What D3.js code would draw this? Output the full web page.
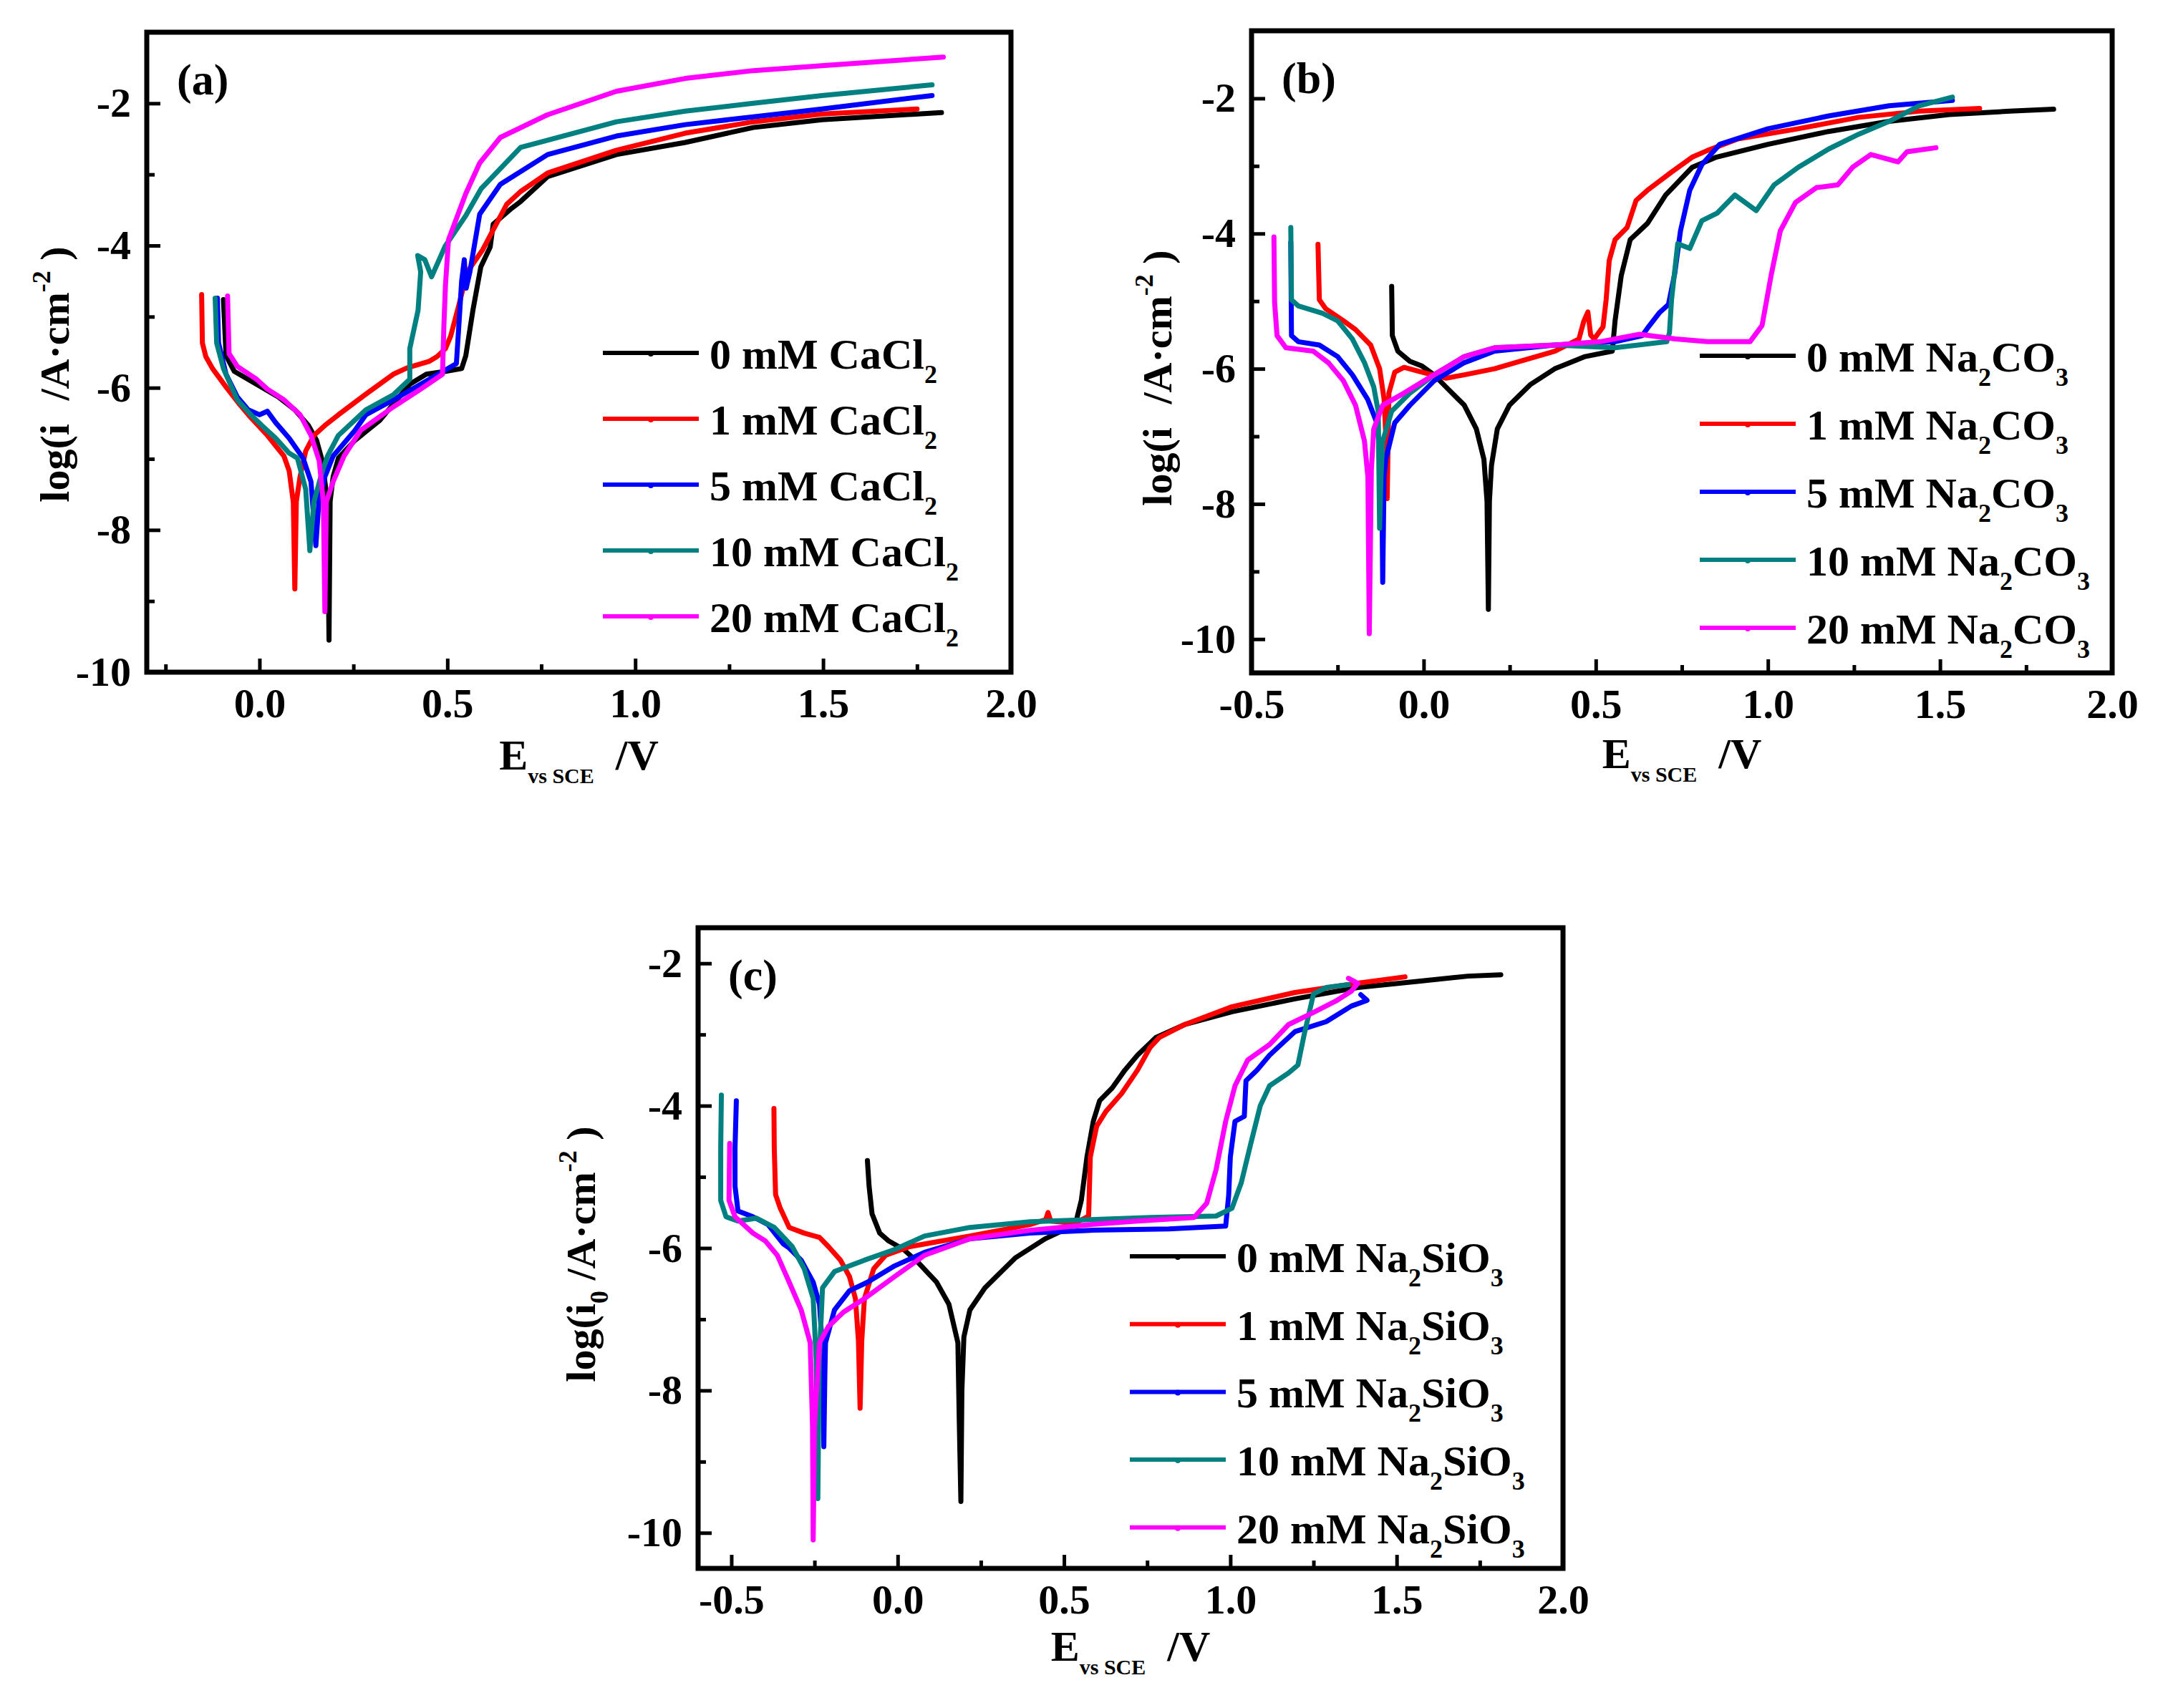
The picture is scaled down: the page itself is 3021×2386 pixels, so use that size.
<!DOCTYPE html>
<html>
<head>
<meta charset="utf-8">
<script src="https://cdn.jsdelivr.net/npm/d3@7"></script>
<style>
  body { margin: 0; background: #ffffff; }
  svg text { font-family: "Liberation Serif", "Times New Roman", serif; font-weight: bold; fill: #000; }
</style>
</head>
<body>
<svg id="figure"></svg>
<script>
// ==================== Data: [E (V vs SCE), log i] ====================

// (a) CaCl2
var a0 = [[-0.096,-4.76],[-0.089,-5.55],[-0.067,-5.77],[-0.008,-5.95],[0.05,-6.13],[0.094,-6.31],[0.13,-6.53],[0.152,-6.74],[0.167,-7.03],[0.181,-7.61],[0.185,-9.55],[0.188,-7.6],[0.196,-7.25],[0.21,-6.99],[0.254,-6.74],[0.32,-6.46],[0.4,-5.95],[0.444,-5.81],[0.495,-5.77],[0.538,-5.73],[0.549,-5.55],[0.568,-4.91],[0.589,-4.3],[0.614,-4.02],[0.622,-3.7],[0.668,-3.49],[0.695,-3.38],[0.767,-3.03],[0.95,-2.72],[1.133,-2.55],[1.314,-2.34],[1.497,-2.23],[1.815,-2.13]];
var a1 = [[-0.154,-4.69],[-0.152,-5.37],[-0.143,-5.56],[-0.125,-5.73],[-0.089,-5.99],[-0.052,-6.24],[-0.023,-6.42],[0.021,-6.67],[0.065,-6.96],[0.079,-7.17],[0.09,-7.61],[0.094,-8.83],[0.098,-7.6],[0.108,-7.25],[0.123,-6.89],[0.145,-6.67],[0.174,-6.53],[0.21,-6.38],[0.283,-6.09],[0.356,-5.81],[0.393,-5.72],[0.451,-5.63],[0.473,-5.56],[0.495,-5.45],[0.509,-5.27],[0.531,-4.83],[0.553,-4.37],[0.594,-4.06],[0.658,-3.42],[0.695,-3.24],[0.767,-2.98],[0.95,-2.66],[1.133,-2.42],[1.314,-2.26],[1.497,-2.15],[1.75,-2.08]];
var a5 = [[-0.112,-4.74],[-0.109,-5.37],[-0.089,-5.81],[-0.059,-6.13],[-0.03,-6.31],[0.0,-6.38],[0.021,-6.33],[0.043,-6.49],[0.079,-6.71],[0.116,-6.99],[0.137,-7.32],[0.15,-8.22],[0.158,-7.6],[0.174,-7.25],[0.196,-6.96],[0.254,-6.6],[0.283,-6.38],[0.356,-6.17],[0.429,-5.95],[0.495,-5.75],[0.524,-5.66],[0.531,-5.09],[0.538,-4.5],[0.545,-4.2],[0.55,-4.6],[0.56,-4.37],[0.586,-3.56],[0.641,-3.14],[0.767,-2.72],[0.95,-2.46],[1.133,-2.3],[1.314,-2.19],[1.497,-2.08],[1.79,-1.89]];
var a10 = [[-0.118,-4.74],[-0.114,-5.37],[-0.096,-5.73],[-0.059,-6.17],[-0.023,-6.38],[0.006,-6.53],[0.043,-6.71],[0.079,-6.92],[0.101,-6.99],[0.123,-7.43],[0.134,-8.29],[0.145,-7.6],[0.167,-7.18],[0.181,-6.96],[0.21,-6.67],[0.283,-6.31],[0.356,-6.1],[0.4,-5.88],[0.4,-5.45],[0.422,-4.91],[0.429,-4.37],[0.421,-4.14],[0.44,-4.2],[0.458,-4.44],[0.494,-4.01],[0.549,-3.58],[0.59,-3.2],[0.695,-2.62],[0.95,-2.26],[1.133,-2.11],[1.314,-2.0],[1.497,-1.89],[1.79,-1.74]];
var a20 = [[-0.085,-4.71],[-0.081,-5.52],[-0.059,-5.7],[-0.008,-5.88],[0.021,-6.02],[0.065,-6.17],[0.108,-6.38],[0.137,-6.67],[0.159,-7.03],[0.17,-7.61],[0.174,-9.15],[0.178,-7.6],[0.196,-7.32],[0.225,-6.96],[0.269,-6.6],[0.356,-6.27],[0.429,-6.02],[0.487,-5.81],[0.491,-5.09],[0.495,-4.55],[0.503,-3.92],[0.549,-3.27],[0.586,-2.84],[0.641,-2.48],[0.767,-2.16],[0.95,-1.83],[1.133,-1.65],[1.314,-1.54],[1.497,-1.47],[1.82,-1.35]];

// (b) Na2CO3
var b0 = [[-0.093,-4.78],[-0.091,-5.51],[-0.075,-5.74],[-0.04,-5.89],[-0.005,-5.96],[0.03,-6.09],[0.065,-6.27],[0.118,-6.54],[0.153,-6.89],[0.175,-7.34],[0.184,-7.96],[0.188,-9.56],[0.191,-7.96],[0.197,-7.43],[0.214,-6.89],[0.249,-6.54],[0.311,-6.23],[0.381,-6.0],[0.469,-5.82],[0.548,-5.74],[0.556,-5.29],[0.574,-4.62],[0.6,-4.09],[0.65,-3.85],[0.703,-3.43],[0.78,-3.02],[0.85,-2.87],[1.0,-2.68],[1.176,-2.49],[1.352,-2.34],[1.527,-2.24],[1.703,-2.19],[1.83,-2.16]];
var b1 = [[-0.307,-4.16],[-0.303,-4.98],[-0.285,-5.11],[-0.233,-5.29],[-0.198,-5.42],[-0.154,-5.65],[-0.128,-6.0],[-0.115,-6.45],[-0.11,-6.98],[-0.106,-7.92],[-0.103,-7.0],[-0.101,-6.36],[-0.084,-6.05],[-0.057,-5.98],[-0.005,-6.05],[0.065,-6.14],[0.118,-6.09],[0.206,-6.0],[0.293,-5.87],[0.381,-5.74],[0.451,-5.56],[0.465,-5.3],[0.477,-5.16],[0.485,-5.5],[0.495,-5.56],[0.521,-5.38],[0.53,-4.98],[0.539,-4.4],[0.556,-4.09],[0.591,-3.91],[0.617,-3.51],[0.65,-3.36],[0.72,-3.09],[0.78,-2.87],[0.825,-2.77],[0.913,-2.6],[1.088,-2.45],[1.264,-2.28],[1.439,-2.19],[1.615,-2.15]];
var b5 = [[-0.386,-4.13],[-0.384,-5.51],[-0.364,-5.6],[-0.303,-5.65],[-0.25,-5.82],[-0.207,-6.09],[-0.163,-6.45],[-0.136,-6.8],[-0.122,-7.5],[-0.119,-9.16],[-0.115,-7.6],[-0.11,-7.34],[-0.084,-6.8],[-0.04,-6.54],[0.03,-6.18],[0.118,-5.91],[0.206,-5.74],[0.381,-5.65],[0.556,-5.6],[0.635,-5.51],[0.653,-5.38],[0.685,-5.17],[0.711,-5.05],[0.729,-4.6],[0.746,-3.96],[0.773,-3.36],[0.808,-2.98],[0.86,-2.68],[1.0,-2.45],[1.176,-2.26],[1.352,-2.11],[1.536,-2.03]];
var b10 = [[-0.386,-3.91],[-0.384,-4.98],[-0.364,-5.07],[-0.294,-5.18],[-0.25,-5.29],[-0.207,-5.56],[-0.172,-5.91],[-0.145,-6.27],[-0.132,-6.63],[-0.13,-7.5],[-0.128,-8.36],[-0.124,-7.6],[-0.119,-7.07],[-0.093,-6.63],[-0.04,-6.36],[0.03,-6.09],[0.118,-5.82],[0.206,-5.69],[0.381,-5.65],[0.556,-5.69],[0.706,-5.6],[0.714,-5.47],[0.72,-4.98],[0.738,-4.15],[0.773,-4.22],[0.808,-3.81],[0.852,-3.7],[0.904,-3.43],[0.966,-3.66],[1.018,-3.28],[1.088,-3.02],[1.176,-2.75],[1.264,-2.53],[1.352,-2.34],[1.439,-2.11],[1.536,-1.98]];
var b20 = [[-0.435,-4.05],[-0.433,-5.02],[-0.426,-5.51],[-0.4,-5.69],[-0.321,-5.74],[-0.277,-5.91],[-0.233,-6.18],[-0.198,-6.54],[-0.172,-7.07],[-0.162,-7.6],[-0.158,-9.92],[-0.152,-7.5],[-0.145,-6.89],[-0.119,-6.54],[-0.057,-6.36],[0.03,-6.09],[0.118,-5.82],[0.206,-5.69],[0.381,-5.65],[0.513,-5.6],[0.627,-5.49],[0.732,-5.56],[0.825,-5.6],[0.948,-5.6],[0.983,-5.36],[1.01,-4.6],[1.036,-3.96],[1.08,-3.54],[1.141,-3.32],[1.203,-3.28],[1.246,-3.02],[1.299,-2.83],[1.378,-2.94],[1.404,-2.79],[1.488,-2.73]];

// (c) Na2SiO3
var c0 = [[-0.091,-4.77],[-0.086,-5.13],[-0.077,-5.52],[-0.054,-5.79],[-0.027,-5.9],[0.018,-6.02],[0.063,-6.21],[0.117,-6.48],[0.154,-6.79],[0.181,-7.33],[0.185,-8.4],[0.19,-9.56],[0.193,-8.0],[0.199,-7.25],[0.217,-6.87],[0.262,-6.56],[0.353,-6.14],[0.443,-5.87],[0.534,-5.67],[0.552,-5.33],[0.569,-4.72],[0.588,-4.22],[0.607,-3.93],[0.645,-3.75],[0.683,-3.5],[0.721,-3.29],[0.777,-3.04],[0.863,-2.86],[1.005,-2.68],[1.194,-2.5],[1.383,-2.34],[1.572,-2.25],[1.714,-2.18],[1.813,-2.16]];
var c1 = [[-0.372,-4.04],[-0.371,-4.6],[-0.367,-5.25],[-0.353,-5.44],[-0.326,-5.71],[-0.281,-5.79],[-0.235,-5.85],[-0.208,-5.98],[-0.172,-6.17],[-0.145,-6.4],[-0.127,-6.71],[-0.118,-7.3],[-0.113,-8.25],[-0.108,-7.3],[-0.1,-6.71],[-0.072,-6.29],[-0.036,-6.1],[0.036,-5.98],[0.109,-5.92],[0.217,-5.83],[0.308,-5.75],[0.398,-5.67],[0.445,-5.6],[0.452,-5.5],[0.46,-5.62],[0.534,-5.65],[0.574,-5.55],[0.579,-4.72],[0.598,-4.29],[0.626,-4.08],[0.673,-3.83],[0.721,-3.5],[0.759,-3.18],[0.787,-3.04],[0.863,-2.86],[1.005,-2.61],[1.194,-2.41],[1.383,-2.28],[1.525,-2.19]];
var c5 = [[-0.485,-3.93],[-0.489,-4.6],[-0.489,-5.13],[-0.48,-5.48],[-0.435,-5.56],[-0.39,-5.67],[-0.344,-5.94],[-0.326,-6.0],[-0.29,-6.17],[-0.254,-6.48],[-0.235,-6.79],[-0.225,-7.5],[-0.222,-8.79],[-0.219,-7.8],[-0.217,-7.33],[-0.19,-6.87],[-0.145,-6.6],[-0.091,-6.48],[-0.009,-6.25],[0.081,-6.06],[0.217,-5.87],[0.398,-5.79],[0.579,-5.75],[0.815,-5.73],[0.986,-5.69],[0.995,-5.26],[1.0,-4.72],[1.014,-4.22],[1.042,-4.15],[1.047,-3.65],[1.08,-3.5],[1.118,-3.29],[1.194,-2.96],[1.288,-2.82],[1.364,-2.6],[1.411,-2.52],[1.392,-2.44]];
var c10 = [[-0.53,-3.85],[-0.532,-4.6],[-0.532,-5.33],[-0.516,-5.56],[-0.48,-5.62],[-0.425,-5.58],[-0.371,-5.71],[-0.317,-5.98],[-0.281,-6.29],[-0.254,-6.71],[-0.245,-7.56],[-0.24,-9.52],[-0.236,-7.6],[-0.226,-6.56],[-0.19,-6.33],[-0.1,-6.17],[-0.009,-6.02],[0.081,-5.83],[0.217,-5.71],[0.398,-5.63],[0.579,-5.6],[0.76,-5.57],[0.957,-5.55],[1.005,-5.44],[1.033,-5.08],[1.061,-4.54],[1.09,-4.0],[1.118,-3.72],[1.175,-3.54],[1.203,-3.43],[1.222,-3.0],[1.25,-2.43],[1.288,-2.34],[1.355,-2.3]];
var c20 = [[-0.505,-4.53],[-0.507,-5.33],[-0.489,-5.56],[-0.435,-5.79],[-0.398,-5.9],[-0.362,-6.1],[-0.326,-6.48],[-0.29,-6.87],[-0.263,-7.33],[-0.256,-8.5],[-0.254,-10.1],[-0.25,-8.5],[-0.235,-7.33],[-0.208,-7.1],[-0.163,-6.9],[-0.1,-6.71],[-0.009,-6.4],[0.081,-6.1],[0.217,-5.87],[0.398,-5.75],[0.579,-5.67],[0.721,-5.62],[0.891,-5.57],[0.929,-5.37],[0.957,-4.9],[0.986,-4.22],[1.014,-3.72],[1.052,-3.36],[1.118,-3.14],[1.175,-2.86],[1.241,-2.71],[1.317,-2.53],[1.364,-2.39],[1.383,-2.28],[1.355,-2.21]];

// legend labels ("_n" = subscript n)
var cacl2Labels = ["0 mM CaCl_2", "1 mM CaCl_2", "5 mM CaCl_2", "10 mM CaCl_2", "20 mM CaCl_2"];
var na2co3Labels = ["0 mM Na_2CO_3", "1 mM Na_2CO_3", "5 mM Na_2CO_3", "10 mM Na_2CO_3", "20 mM Na_2CO_3"];
var na2sio3Labels = ["0 mM Na_2SiO_3", "1 mM Na_2SiO_3", "5 mM Na_2SiO_3", "10 mM Na_2SiO_3", "20 mM Na_2SiO_3"];

// tick values
var xTicksA = [0, 0.5, 1.0, 1.5, 2.0];
var xMinorA = [-0.25, 0.25, 0.75, 1.25, 1.75];
var xTicksBC = [-0.5, 0, 0.5, 1.0, 1.5, 2.0];
var xMinorBC = [-0.25, 0.25, 0.75, 1.25, 1.75];
var yTicks = [-2, -4, -6, -8, -10];
var yMinor = [-3, -5, -7, -9];

var seriesColors = ["#000000", "#ff0000", "#0000ff", "#008080", "#ff00ff"];

// ==================== Panel layout ====================

var panels = [
    { label: "(a)", left: 205, right: 1412, top: 45, bottom: 939,
      xDomain: [-0.3, 2.0], yDomain: [-10, -1], xMajor: xTicksA, xMinor: xMinorA,
      series: [a0, a1, a5, a10, a20], names: cacl2Labels,
      legendX: 842, legendY: 493, legendStep: 92,
      yTitleX: 96, yTitleY: 523, iSub: "", xTitleY: 1075 },
    { label: "(b)", left: 1748, right: 2950, top: 43, bottom: 940,
      xDomain: [-0.5, 2.0], yDomain: [-10.5, -1], xMajor: xTicksBC, xMinor: xMinorBC,
      series: [b0, b1, b5, b10, b20], names: na2co3Labels,
      legendX: 2374, legendY: 497, legendStep: 95,
      yTitleX: 1636, yTitleY: 528, iSub: "", xTitleY: 1073 },
    { label: "(c)", left: 975, right: 2183, top: 1296, bottom: 2191,
      xDomain: [-0.6, 2.0], yDomain: [-10.5, -1.5], xMajor: xTicksBC, xMinor: xMinorBC,
      series: [c0, c1, c5, c10, c20], names: na2sio3Labels,
      legendX: 1578, legendY: 1755, legendStep: 94.7,
      yTitleX: 831, yTitleY: 1752, iSub: "0", xTitleY: 2320 }
];

var svg = d3.select("#figure")
            .attr("width", 3021)
            .attr("height", 2386);

svg.append("rect")
   .attr("width", 3021)
   .attr("height", 2386)
   .attr("fill", "#ffffff");

panels.forEach(drawPanel);

// ==================== Drawing ====================

function drawPanel(p) {
    var x = d3.scaleLinear().domain(p.xDomain).range([p.left, p.right]);
    var y = d3.scaleLinear().domain(p.yDomain).range([p.bottom, p.top]);
    var g = svg.append("g");

    // polarization curves, black first so magenta ends up on top
    var line = d3.line()
                 .x(function(d) { return x(d[0]); })
                 .y(function(d) { return y(d[1]); });

    p.series.forEach(function(s, i) {
        g.append("path")
         .attr("d", line(s))
         .attr("fill", "none")
         .attr("stroke", seriesColors[i])
         .attr("stroke-width", 7)
         .attr("stroke-linejoin", "round")
         .attr("stroke-linecap", "round");
    });

    // axes with inward ticks
    var xMajorAxis = d3.axisBottom(x)
                       .tickValues(p.xMajor)
                       .tickFormat(function(d) { return d.toFixed(1); })
                       .tickSizeInner(-19).tickSizeOuter(0).tickPadding(22);
    var xMinorAxis = d3.axisBottom(x)
                       .tickValues(p.xMinor)
                       .tickFormat("")
                       .tickSizeInner(-11).tickSizeOuter(0);
    var yMajorAxis = d3.axisLeft(y)
                       .tickValues(yTicks)
                       .tickFormat(function(d) { return String(d); })
                       .tickSizeInner(-19).tickSizeOuter(0).tickPadding(22);
    var yMinorAxis = d3.axisLeft(y)
                       .tickValues(yMinor)
                       .tickFormat("")
                       .tickSizeInner(-11).tickSizeOuter(0);

    [[xMajorAxis, "translate(0," + p.bottom + ")"],
     [xMinorAxis, "translate(0," + p.bottom + ")"],
     [yMajorAxis, "translate(" + p.left + ",0)"],
     [yMinorAxis, "translate(" + p.left + ",0)"]].forEach(function(a) {
        var ax = g.append("g").attr("transform", a[1]).call(a[0]);
        ax.select(".domain").remove();
        ax.selectAll(".tick line").attr("stroke", "#000").attr("stroke-width", 5);
        ax.selectAll(".tick text")
          .attr("font-family", null)
          .style("font-size", "58px")
          .attr("fill", "#000");
    });

    // frame
    g.append("rect")
     .attr("x", p.left)
     .attr("y", p.top)
     .attr("width", p.right - p.left)
     .attr("height", p.bottom - p.top)
     .attr("fill", "none")
     .attr("stroke", "#000")
     .attr("stroke-width", 7);

    // panel letter
    g.append("text")
     .attr("x", p.left + 42)
     .attr("y", p.top + 87)
     .style("font-size", "62px")
     .text(p.label);

    drawLegend(g, p);
    drawTitles(g, p);
}

function drawLegend(g, p) {
    p.names.forEach(function(name, i) {
        var ly = p.legendY + i * p.legendStep;
        g.append("line")
         .attr("x1", p.legendX).attr("x2", p.legendX + 134)
         .attr("y1", ly).attr("y2", ly)
         .attr("stroke", seriesColors[i])
         .attr("stroke-width", 6);
        g.append("circle")
         .attr("cx", p.legendX + 67).attr("cy", ly + 1)
         .attr("r", 4)
         .attr("fill", seriesColors[i]);

        var t = g.append("text")
                 .attr("x", p.legendX + 149)
                 .attr("y", ly + 22)
                 .style("font-size", "60px");
        addSubscripts(t, name);
    });
}

// "Na_2CO_3" -> Na, sub 2, CO, sub 3
function addSubscripts(t, str) {
    var parts = str.split(/_(\d)/);
    var down = false;
    parts.forEach(function(part, k) {
        if (part === "") return;
        var isSub = (k % 2 === 1);
        var ts = t.append("tspan").text(part);
        if (isSub) {
            ts.style("font-size", "36px").attr("dy", down ? 0 : 20);
            down = true;
        } else {
            ts.attr("dy", down ? -20 : 0);
            down = false;
        }
    });
}

function drawTitles(g, p) {
    // x title: E with "vs SCE" subscript
    var cx = (p.left + p.right) / 2;
    var xt = g.append("text")
              .attr("x", cx)
              .attr("y", p.xTitleY)
              .attr("text-anchor", "middle")
              .style("font-size", "60px");
    xt.append("tspan").text("E");
    xt.append("tspan").text("vs SCE").style("font-size", "30px").attr("dy", 19);
    xt.append("tspan").text("\u00a0 /V").attr("dy", -19);

    // y title: log(i0 /A·cm-2)
    var yt = g.append("text")
              .attr("transform", "translate(" + p.yTitleX + "," + p.yTitleY + ") rotate(-90)")
              .attr("text-anchor", "middle")
              .style("font-size", "58px");
    yt.append("tspan").text("log(i");
    yt.append("tspan")
      .text(p.iSub === "" ? "\u00a0\u00a0" : p.iSub)
      .style("font-size", "36px")
      .attr("dy", 18);
    yt.append("tspan").text("\u00a0/A\u00b7cm").attr("dy", -18);
    yt.append("tspan").text("-2").style("font-size", "36px").attr("dy", -26);
    yt.append("tspan").text("\u00a0)").attr("dy", 26);
}
</script>
</body>
</html>
